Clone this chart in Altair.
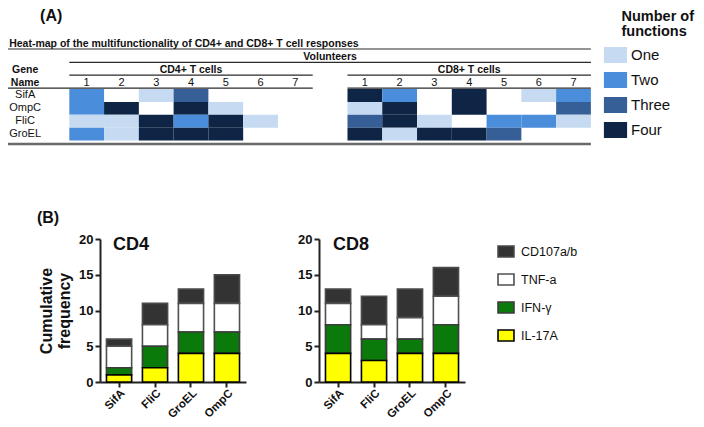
import altair as alt
import pandas as pd

# ---------------- data ----------------
genes = ["SifA", "OmpC", "FliC", "GroEL"]
volunteers = ["1", "2", "3", "4", "5", "6", "7"]
# number of functions per gene (rows) and volunteer (columns); 0 = no response
cd4_functions = [
    [2, 0, 1, 3, 0, 0, 0],
    [2, 4, 0, 4, 1, 0, 0],
    [1, 1, 4, 2, 4, 1, 0],
    [2, 1, 4, 4, 4, 0, 0],
]
cd8_functions = [
    [4, 2, 0, 4, 0, 1, 2],
    [1, 4, 0, 4, 0, 0, 3],
    [3, 4, 1, 0, 2, 2, 1],
    [4, 1, 4, 4, 3, 0, 0],
]
function_names = ["One", "Two", "Three", "Four"]
function_colors = ["#c6daf1", "#4a8edb", "#365f97", "#0f2545"]

antigens = ["SifA", "FliC", "GroEL", "OmpC"]
cytokines = ["CD107a/b", "TNF-a", "IFN-γ", "IL-17A"]
cytokine_fill = ["#333333", "#ffffff", "#0a7a0a", "#ffff00"]
cytokine_stroke = ["#4a4a4a", "#505050", "#3c3c3c", "#000000"]

cd4_il17a = [1, 2, 4, 4]
cd4_ifng = [1, 3, 3, 3]
cd4_tnfa = [3, 3, 4, 4]
cd4_cd107 = [1, 3, 2, 4]

cd8_il17a = [4, 3, 4, 4]
cd8_ifng = [4, 3, 2, 4]
cd8_tnfa = [3, 2, 3, 4]
cd8_cd107 = [2, 4, 4, 4]

FONT = "Liberation Sans"
INK = "#111111"

# ---------------- heat-map table ----------------
def HX(field):
    return alt.X(field, type="quantitative", axis=None,
                 scale=alt.Scale(domain=[0, 15], range=[61.3, 582.9], nice=False, zero=False))


def HY(field):
    return alt.Y(field, type="quantitative", axis=None,
                 scale=alt.Scale(domain=[0, 4], range=[81.0, 132.6], nice=False, zero=False))


cells = []
for gi, g in enumerate(genes):
    for vi in range(len(volunteers)):
        for mat, start in ((cd4_functions, 0), (cd8_functions, 8)):
            n = mat[gi][vi]
            if n:
                cells.append(dict(gene=g, c0=start + vi, c1=start + vi + 1,
                                  r0=gi, r1=gi + 1, functions=function_names[n - 1]))
cells = pd.DataFrame(cells)

rect_path = "M-1.45,-1H1.45V1H-1.45Z"

heat_rects = alt.Chart(cells).mark_rect(strokeWidth=0).encode(
    x=HX("c0"), x2="c1:Q", y=HY("r0"), y2="r1:Q",
    fill=alt.Fill("functions:N",
                  scale=alt.Scale(domain=function_names, range=function_colors),
                  legend=alt.Legend(title=None, orient="none", legendX=599.5, legendY=39,
                                    symbolType=rect_path, symbolSize=256, symbolStrokeWidth=0,
                                    symbolOpacity=1,
                                    labelFont=FONT, labelFontSize=15, labelColor=INK,
                                    labelOffset=7.5, rowPadding=9, padding=0)),
)


def rule_layer(items, width, color):
    df = pd.DataFrame(items, columns=["x1", "x2", "y"])
    return alt.Chart(df).mark_rule(strokeWidth=width, color=color).encode(
        x=HX("x1"), x2="x2:Q", y=HY("y"))


def text_layer(items, size, weight="normal", align="center"):
    df = pd.DataFrame(items, columns=["t", "x", "y"])
    return alt.Chart(df).mark_text(font=FONT, fontSize=size, fontWeight=weight, align=align,
                                   baseline="middle", color=INK).encode(
        x=HX("x"), y=HY("y"), text="t:N")


thin_rules = rule_layer([(-2, 15, -3.1), (0, 15, -2.07), (0, 7, -1.08), (8, 15, -1.08),
                         (-2, 7, -0.07), (8, 15, -0.07)], 1.2, "#2a2a2a")
thick_rule = rule_layer([(-2, 15, 4.26)], 2.5, "#6a6a6a")

header_bold = text_layer(
    [("Volunteers", 7.5, -2.48), ("CD4+ T cells", 3.5, -1.47), ("CD8+ T cells", 11.5, -1.47),
     ("Gene", -1.27, -1.47), ("Name", -1.27, -0.45)], 10.5, "bold")
title_text = text_layer(
    [("Heat-map of the multifunctionality of CD4+ and CD8+ T cell responses", -1.73, -3.49)],
    10.5, "bold", "left")
numbers = text_layer([(v, i + 0.5, -0.45) for i, v in enumerate(volunteers)] +
                     [(v, i + 8.5, -0.45) for i, v in enumerate(volunteers)], 11)
gene_names = text_layer([(g, -1.27, i + 0.5) for i, g in enumerate(genes)], 11)
panel_tags = text_layer([("(A)", -0.84, -5.66), ("(B)", -0.93, 10.0)], 16, "bold", "left")
legend_title = text_layer([("Number of", 15.88, -5.6), ("functions", 15.88, -4.38)],
                          14.5, "bold", "left")
bar_titles = text_layer([("CD4", 1.256, 12.13), ("CD8", 7.58, 12.13)], 18, "bold", "left")

heat = alt.layer(heat_rects, thin_rules, thick_rule, header_bold, title_text, numbers,
                 gene_names, panel_tags, legend_title, bar_titles)


# ---------------- stacked bars ----------------
def bar_frame(il17, ifng, tnfa, cd107):
    rows = []
    for name, vals, k in (("CD107a/b", cd107, 3), ("TNF-a", tnfa, 2),
                          ("IFN-γ", ifng, 1), ("IL-17A", il17, 0)):
        for a, v in zip(antigens, vals):
            rows.append(dict(antigen=a, cytokine=name, value=v, k=k))
    return pd.DataFrame(rows)


axis_style = dict(domainColor="#222222", domainWidth=2, tickColor="#222222", tickWidth=2,
                  tickSize=5, labelFont=FONT, labelFontWeight="bold",
                  labelColor=INK, grid=False)


def panel(df, x_range, with_title, with_legend):
    xs = alt.Scale(domain=antigens, range=x_range, paddingInner=0.3, paddingOuter=0.18)
    ys = alt.Scale(domain=[0, 20], range=[374, 231], nice=False, zero=True)
    x_axis = alt.Axis(orient="bottom", offset=-37, labelAngle=-45, labelAlign="right",
                      labelBaseline="top", labelPadding=0, labelFontSize=11.5, title=None,
                      **axis_style)
    if with_title:
        y_axis = alt.Axis(orient="left", offset=-x_range[0], values=[0, 5, 10, 15, 20],
                          labelPadding=2, labelFontSize=13,
                          title=["Cumulative", "frequency"], titleFont=FONT,
                          titleFontSize=16, titleFontWeight="bold", titleColor=INK,
                          titlePadding=6, **axis_style)
    else:
        y_axis = alt.Axis(orient="left", offset=-x_range[0], values=[0, 5, 10, 15, 20],
                          labelPadding=2, labelFontSize=13, title=None, **axis_style)
    if with_legend:
        leg = alt.Legend(title=None, orient="none", legendX=491.5, legendY=237,
                         symbolType=rect_path, symbolSize=121, symbolStrokeWidth=1.6,
                         symbolOpacity=1,
                         labelFont=FONT, labelFontSize=12.5, labelColor=INK,
                         labelOffset=8.5, rowPadding=9, padding=0)
    else:
        leg = None
    return alt.Chart(df).mark_bar(strokeWidth=1.6, opacity=1).encode(
        x=alt.X("antigen:N", sort=antigens, scale=xs, axis=x_axis),
        y=alt.Y("value:Q", stack="zero", scale=ys, axis=y_axis),
        fill=alt.Fill("cytokine:N", scale=alt.Scale(domain=cytokines, range=cytokine_fill),
                      legend=leg),
        stroke=alt.Stroke("cytokine:N", scale=alt.Scale(domain=cytokines, range=cytokine_stroke),
                          legend=leg),
        order=alt.Order("k:Q", sort="ascending"),
    )


cd4 = panel(bar_frame(cd4_il17a, cd4_ifng, cd4_tnfa, cd4_cd107), [92, 238], True, True)
cd8 = panel(bar_frame(cd8_il17a, cd8_ifng, cd8_tnfa, cd8_cd107), [311, 457], False, False)

chart = (
    alt.layer(heat, cd4, cd8)
    .resolve_scale(x="independent", y="independent", fill="independent", stroke="independent")
    .resolve_axis(x="independent", y="independent")
    .resolve_legend(fill="independent", stroke="independent")
    .properties(width=688, height=411, padding=0,
                autosize=alt.AutoSizeParams(type="none"), background="white")
    .configure(font=FONT)
    .configure_view(strokeWidth=0)
)

chart.save("out.html", embed_options={"renderer": "svg", "actions": False})
